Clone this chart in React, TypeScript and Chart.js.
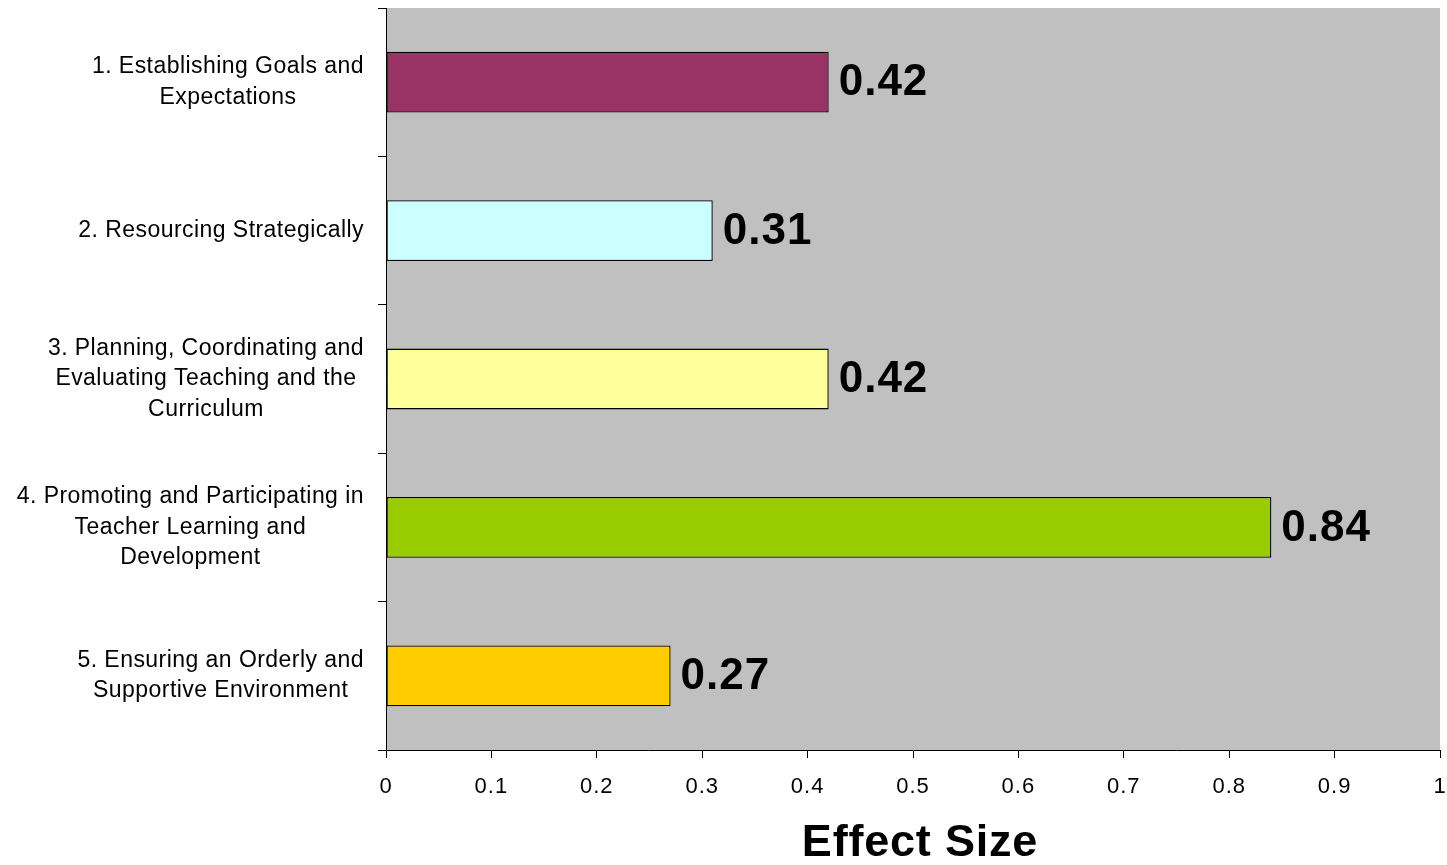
import { useEffect, useRef } from "react";
import { Chart, registerables } from "chart.js";

Chart.register(...registerables);

const categories: string[][] = [
  ["1. Establishing Goals and", "Expectations"],
  ["2. Resourcing Strategically"],
  ["3. Planning, Coordinating and", "Evaluating Teaching and the", "Curriculum"],
  ["4. Promoting and Participating in", "Teacher Learning and", "Development"],
  ["5. Ensuring an Orderly and", "Supportive Environment"],
];
const effectSizes = [0.42, 0.31, 0.42, 0.84, 0.27];
const barColors = ["#993366", "#CCFFFF", "#FFFF99", "#99CC00", "#FFCC00"];
const xTickLabels = ["0", "0.1", "0.2", "0.3", "0.4", "0.5", "0.6", "0.7", "0.8", "0.9", "1"];
const axisTitle = "Effect Size";

const FONT = "'Liberation Sans', Arial, sans-serif";

const customPlugin = {
  id: "customDraw",
  beforeDraw(chart: any) {
    const { ctx, chartArea } = chart;
    ctx.save();
    ctx.fillStyle = "#C0C0C0";
    ctx.fillRect(
      chartArea.left,
      chartArea.top,
      chartArea.right - chartArea.left,
      chartArea.bottom - chartArea.top
    );
    ctx.restore();
    ctx.letterSpacing = "1px";
  },
  afterDraw(chart: any) {
    const ctx = chart.ctx;
    const xs = chart.scales.x;
    const ys = chart.scales.y;
    ctx.save();
    ctx.fillStyle = "#000";
    ctx.textBaseline = "middle";

    // category labels: each block right-aligned, lines centered within block
    ctx.font = `23px ${FONT}`;
    ctx.letterSpacing = "0.45px";
    ctx.textAlign = "center";
    const lineH = 30.7;
    const rightEdge = 364;
    categories.forEach((lines, i) => {
      const cy = ys.getPixelForValue(i);
      const widths = lines.map((l) => ctx.measureText(l).width);
      const block = Math.max(...widths);
      const cx = rightEdge - block / 2;
      lines.forEach((l, j) => {
        ctx.fillText(l, cx, cy + (j - (lines.length - 1) / 2) * lineH);
      });
    });

    // value labels
    ctx.font = `bold 44px ${FONT}`;
    ctx.letterSpacing = "1px";
    ctx.textAlign = "left";
    effectSizes.forEach((v, i) => {
      ctx.fillText(v.toFixed(2), xs.getPixelForValue(v) + 10, ys.getPixelForValue(i) + 1);
    });

    // axis title
    ctx.font = `bold 45px ${FONT}`;
    ctx.letterSpacing = "0.8px";
    ctx.textAlign = "center";
    ctx.fillText(axisTitle, (xs.left + xs.right) / 2 + 7, 844);
    ctx.restore();
  },
};

export default function App() {
  const canvasRef = useRef<HTMLCanvasElement | null>(null);

  useEffect(() => {
    if (!canvasRef.current) return;
    const chart = new Chart(canvasRef.current, {
      type: "bar",
      data: {
        labels: categories,
        datasets: [
          {
            data: effectSizes,
            backgroundColor: barColors,
            borderColor: "#000000",
            borderWidth: 1.3,
            borderSkipped: false,
            barPercentage: 0.41,
            categoryPercentage: 1,
          },
        ],
      },
      options: {
        indexAxis: "y",
        animation: false,
        responsive: true,
        maintainAspectRatio: false,
        layout: { padding: { top: 8, right: 7, left: 0, bottom: 0 } },
        plugins: {
          legend: { display: false },
          tooltip: { enabled: false },
        },
        scales: {
          x: {
            type: "linear",
            min: 0,
            max: 1,
            ticks: {
              stepSize: 0.1,
              color: "#000",
              padding: 16,
              font: { size: 22, family: FONT },
              callback: (_v: any, i: number) => xTickLabels[i],
            },
            grid: {
              drawOnChartArea: false,
              color: "#000",
              tickLength: 8,
            },
            border: { color: "#000", width: 1 },
            afterFit: (s: any) => {
              s.height = 115;
              s.paddingLeft = 0;
              s.paddingRight = 0;
            },
          },
          y: {
            ticks: { display: false },
            grid: {
              drawOnChartArea: false,
              color: "#000",
              tickLength: 8,
              offset: true,
            },
            border: { color: "#000", width: 1 },
            afterFit: (s: any) => {
              s.width = 386;
              s.paddingTop = 0;
              s.paddingBottom = 0;
            },
          },
        },
      },
      plugins: [customPlugin],
    });
    return () => chart.destroy();
  }, []);

  return (
    <div style={{ position: "absolute", left: 0, top: 0, width: 1447, height: 865 }}>
      <canvas ref={canvasRef} />
    </div>
  );
}
